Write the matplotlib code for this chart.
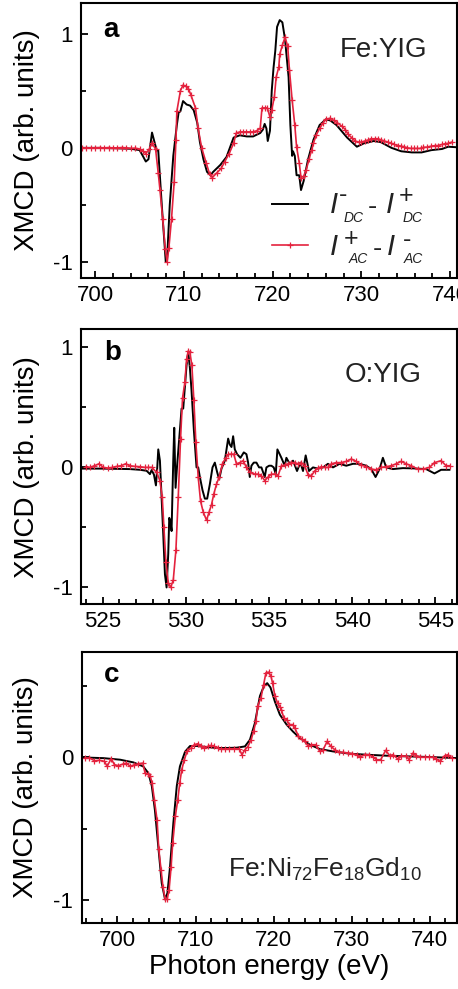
import matplotlib
matplotlib.use("Agg")
import matplotlib.pyplot as plt
from matplotlib.ticker import MultipleLocator

plt.rcParams['font.family'] = ['Liberation Sans', 'DejaVu Sans']
plt.rcParams['mathtext.fontset'] = 'custom'
plt.rcParams['mathtext.rm'] = 'Liberation Sans'
plt.rcParams['mathtext.it'] = 'Liberation Sans:italic'
plt.rcParams['mathtext.bf'] = 'Liberation Sans:bold'
plt.rcParams['axes.unicode_minus'] = False

RED = '#e4223e'

# panel a: Fe L-edge of YIG
ea_dc = [698.4, 700.0, 702.0, 704.0, 705.0, 705.4, 705.7, 706.0, 706.4, 706.8, 706.95, 707.1,
         707.5, 707.95, 708.1, 708.4, 708.8, 709.2, 709.4, 709.6, 709.9, 710.3, 710.7, 711.1,
         711.5, 711.8, 712.2, 712.6, 713.0, 713.3, 714.1, 714.8, 715.6, 716.3, 717.1, 717.8,
         718.6, 718.9, 719.1, 719.3, 719.45, 719.7, 719.9, 720.1, 720.3, 720.5, 720.8, 721.1,
         721.4, 721.8, 722.0, 722.2, 722.3, 722.5, 722.7, 723.0, 723.2, 723.5, 724.0, 724.6,
         725.3, 726.0, 726.5, 727.2, 728.4, 729.5, 730.3, 731.4, 732.2, 733.4, 734.5, 735.7,
         736.8, 737.9, 739.1, 739.8, 740.8]
xa_dc = [0.0, 0.0, -0.003, -0.008, -0.02, -0.076, -0.12, -0.10, 0.134, 0.015, -0.02, -0.02,
         -0.5, -1.0, -0.98, -0.5, -0.07, 0.2, 0.31, 0.32, 0.41, 0.38, 0.37, 0.33,
         0.22, 0.05, -0.10, -0.21, -0.24, -0.21, -0.15, -0.08, 0.09, 0.11, 0.10, 0.10,
         0.13, 0.16, 0.21, 0.17, 0.06, 0.15, 0.50, 0.70, 0.85, 1.06, 1.12, 1.10,
         0.95, 0.62, 0.20, -0.07, -0.03, -0.07, -0.24, -0.24, -0.37, -0.29, -0.10, 0.07,
         0.20, 0.25, 0.24, 0.20, 0.09, 0.01, 0.04, 0.06, 0.05, 0.0, -0.03, -0.04,
         -0.04, -0.02, -0.01, 0.01, 0.005]

ea_ac = [698.5, 699.0, 699.5, 700.0, 700.5, 701.0, 701.5, 702.0, 702.5, 703.0, 703.5, 704.0,
         704.5, 705.0, 705.4, 705.7, 706.1, 706.4, 706.8, 707.1, 707.3, 707.6, 707.9, 708.1,
         708.3, 708.6, 708.9, 709.1, 709.2, 709.6, 709.9, 710.2, 710.5, 710.8, 711.3, 711.6,
         712.0, 712.5, 712.9, 713.2, 713.7, 714.2, 714.6, 715.1, 715.6, 715.9, 716.3, 716.7,
         717.0, 717.4, 717.8, 718.2, 718.6, 718.8, 719.1, 719.4, 719.7, 719.9, 720.2, 720.4,
         720.7, 720.8, 721.1, 721.4, 721.7, 721.9, 722.2, 722.5, 722.7, 723.0, 723.2, 723.5,
         723.8, 724.1, 724.4, 724.6, 724.9, 725.3, 725.7, 726.0, 726.5, 726.9, 727.3, 727.8,
         728.2, 728.5, 728.9, 729.3, 729.7, 730.0, 730.4, 730.8, 731.1, 731.5, 731.9, 732.2,
         732.6, 733.0, 733.4, 733.7, 734.1, 734.5, 734.8, 735.2, 735.6, 735.9, 736.3, 736.7,
         737.0, 737.4, 737.9, 738.3, 738.7, 739.1, 739.4, 739.8, 740.2]
xa_ac = [0.0, 0.0, 0.0, 0.0, 0.003, 0.0, 0.003, 0.0, 0.0, 0.003, 0.0, -0.005,
         -0.003, -0.01, -0.03, -0.05, -0.01, 0.04, -0.01, -0.22, -0.37, -0.62, -0.89, -1.0,
         -0.88, -0.62, -0.30, 0.07, 0.32, 0.50, 0.55, 0.54, 0.52, 0.46, 0.35, 0.17,
         0.0, -0.13, -0.23, -0.26, -0.22, -0.18, -0.12, -0.05, 0.04, 0.13, 0.14, 0.14,
         0.14, 0.14, 0.14, 0.15, 0.17, 0.35, 0.35, 0.35, 0.27, 0.33, 0.45, 0.62,
         0.71, 0.82, 0.90, 0.97, 0.89, 0.68, 0.42, 0.20, 0.01, -0.13, -0.26, -0.25,
         -0.19, -0.10, -0.02, 0.04, 0.11, 0.17, 0.22, 0.25, 0.26, 0.24, 0.22, 0.19,
         0.16, 0.12, 0.09, 0.06, 0.05, 0.05, 0.06, 0.07, 0.08, 0.08, 0.08, 0.07,
         0.06, 0.05, 0.04, 0.03, 0.02, 0.015, 0.01, 0.0, -0.005, -0.005, -0.005, -0.005,
         0.005, 0.006, 0.015, 0.02, 0.02, 0.03, 0.035, 0.04, 0.05]

# panel b: O K-edge of YIG
eb_dc = [523.7, 525.0, 526.64, 527.24, 527.64, 527.84, 527.94, 528.08, 528.2, 528.28, 528.34,
         528.44, 528.54, 528.64, 528.74, 528.84, 528.94, 529.0, 529.08, 529.14, 529.24, 529.3,
         529.38, 529.48, 529.64, 529.74, 529.84, 529.94, 530.04, 530.14, 530.24, 530.34, 530.48,
         530.64, 530.74, 530.84, 531.0, 531.14, 531.28, 531.44, 531.6, 531.74, 531.88, 532.0,
         532.14, 532.34, 532.54, 532.64, 532.74, 532.84, 532.94, 533.08, 533.28, 533.48, 533.64,
         533.74, 533.84, 533.94, 534.08, 534.24, 534.4, 534.54, 534.74, 534.84, 535.0, 535.14,
         535.28, 535.4, 535.5, 535.74, 535.94, 536.04, 536.24, 536.44, 536.68, 536.88, 537.04,
         537.2, 537.4, 537.64, 537.94, 538.24, 538.54, 538.84, 539.24, 539.64, 540.04, 540.44,
         540.84, 541.14, 541.4, 541.64, 541.84, 542.04, 542.44, 543.04, 543.64, 544.44, 544.94,
         545.34, 545.84]
xb_dc = [-0.01, -0.01, -0.014, -0.02, -0.028, -0.056, -0.022, -0.06, -0.15, 0.0, 0.15,
         0.056, -0.25, -0.56, -0.89, -1.0, -0.72, -0.42, -0.46, -0.53, 0.056, 0.33,
         -0.17, 0.03, 0.31, 0.49, 0.49, 0.67, 0.85, 0.96, 0.83, 0.64, 0.31,
         0.0, 0.0, -0.08, -0.19, -0.26, -0.26, -0.14, 0.0, 0.04, -0.04, -0.10,
         -0.01, 0.056, 0.24, 0.19, 0.17, 0.26, 0.15, 0.11, 0.08, 0.125, 0.11,
         0.04, -0.08, 0.014, 0.04, 0.04, 0.0, 0.0, -0.08, 0.0, 0.014, 0.014,
         0.0, -0.056, 0.15, 0.08, 0.014, 0.08, 0.03, 0.056, -0.03, 0.04, -0.03,
         0.10, -0.03, 0.0, -0.01, 0.0, 0.03, 0.0, 0.03, 0.014, 0.03, 0.03,
         0.014, -0.014, -0.08, -0.014, 0.08, 0.0, -0.014, -0.006, -0.008, -0.014, -0.05,
         -0.02, -0.02]

eb_ac = [524.0, 524.24, 524.5, 524.78, 525.04, 525.3, 525.58, 525.84, 526.1, 526.38, 526.64,
         526.94, 527.24, 527.54, 527.74, 527.94, 528.24, 528.44, 528.58, 528.68, 528.8, 528.94,
         529.08, 529.24, 529.4, 529.54, 529.68, 529.8, 529.94, 530.04, 530.14, 530.24, 530.36,
         530.48, 530.6, 530.74, 530.88, 531.04, 531.24, 531.4, 531.54, 531.68, 531.84, 532.0,
         532.2, 532.4, 532.56, 532.74, 532.88, 533.04, 533.24, 533.44, 533.64, 533.84, 534.14,
         534.34, 534.54, 534.74, 534.94, 535.14, 535.34, 535.54, 535.74, 535.94, 536.14, 536.34,
         536.54, 536.74, 536.94, 537.14, 537.34, 537.54, 537.74, 537.94, 538.14, 538.34, 538.54,
         538.74, 539.04, 539.34, 539.64, 539.94, 540.24, 540.54, 540.84, 541.14, 541.44, 541.74,
         542.04, 542.34, 542.64, 542.94, 543.24, 543.54, 543.94, 544.24, 544.64, 544.94, 545.34,
         545.64, 545.88]
xb_ac = [0.006, 0.0, 0.014, 0.03, 0.0, -0.006, 0.0, 0.008, 0.014, 0.03, 0.014,
         0.008, 0.006, 0.0, 0.0, 0.0, -0.04, -0.11, -0.25, -0.50, -0.79, -0.96,
         -1.0, -0.94, -0.69, -0.25, 0.24, 0.58, 0.71, 0.90, 0.97, 0.96, 0.85,
         0.56, 0.21, -0.08, -0.28, -0.37, -0.44, -0.37, -0.31, -0.22, -0.14, -0.08,
         0.03, 0.08, 0.11, 0.11, 0.11, 0.03, 0.04, 0.056, 0.0, -0.04, -0.056,
         -0.056, -0.07, -0.11, -0.08, -0.056, -0.056, -0.07, 0.014, 0.02, 0.03, 0.04,
         0.04, 0.03, 0.04, 0.014, -0.06, -0.07, -0.03, -0.006, 0.006, 0.0, 0.0,
         0.03, 0.04, 0.04, 0.05, 0.07, 0.05, 0.02, 0.006, -0.014, -0.02, 0.0,
         0.006, 0.014, 0.03, 0.05, 0.03, 0.014, -0.014, -0.014, 0.0, 0.04, 0.056,
         0.014, 0.014]

# panel c: Fe L-edge of Ni72Fe18Gd10
ec_dc = [695.4, 698.2, 700.35, 702.05, 703.3, 703.96, 704.4, 704.8, 705.24, 705.67, 706.1, 706.4,
         706.73, 707.16, 707.6, 708.0, 708.66, 709.3, 710.15, 711.4, 712.7, 714.0, 715.27, 716.33,
         716.97, 717.6, 718.25, 718.76, 719.18, 719.6, 720.17, 720.8, 721.66, 722.5, 723.36, 724.64,
         725.9, 727.6, 729.76, 731.9, 734.45, 737.4, 740.4, 743.5]
xc_dc = [0.0, -0.005, -0.016, -0.035, -0.063, -0.11, -0.20, -0.37, -0.63, -0.88, -0.995, -0.95,
         -0.77, -0.46, -0.20, -0.063, 0.04, 0.08, 0.08, 0.073, 0.066, 0.066, 0.068, 0.077,
         0.124, 0.24, 0.43, 0.50, 0.52, 0.49, 0.39, 0.30, 0.23, 0.18, 0.136, 0.089,
         0.059, 0.042, 0.026, 0.019, 0.012, 0.007, 0.002, -0.005]

ec_ac = [695.87, 696.42, 697.06, 697.7, 698.34, 698.68, 699.19, 699.62, 700.13, 700.69, 701.11,
         701.67, 702.18, 702.69, 703.24, 703.54, 703.88, 704.18, 704.44, 704.74, 705.08, 705.29,
         705.59, 705.84, 706.1, 706.36, 706.61, 706.87, 707.08, 707.42, 707.72, 707.98, 708.23,
         708.57, 708.91, 709.42, 709.85, 710.28, 710.7, 711.13, 711.55, 711.98, 712.4, 712.83,
         713.25, 713.77, 714.32, 714.96, 715.6, 715.94, 716.33, 716.67, 717.1, 717.44, 717.74,
         717.95, 718.38, 718.72, 719.02, 719.36, 719.66, 719.87, 720.17, 720.51, 720.85, 721.0,
         721.3, 721.66, 722.0, 722.43, 722.72, 723.15, 723.58, 724.0, 724.43, 724.85, 725.41,
         725.92, 726.35, 726.86, 727.33, 727.84, 728.4, 728.9, 729.55, 730.1, 730.7, 731.04,
         731.68, 732.23, 732.74, 733.17, 733.72, 734.36, 734.87, 735.3, 735.94, 736.37, 737.0,
         737.35, 737.86, 738.29, 738.8, 739.35, 739.9, 740.4, 740.84, 741.35, 741.9, 742.33,
         742.88]
xc_ac = [-0.004, -0.004, -0.023, -0.02, -0.028, -0.063, -0.009, -0.051, -0.058, -0.047, -0.04,
         -0.063, -0.051, -0.044, -0.04, -0.11, -0.115, -0.13, -0.18, -0.30, -0.44, -0.64,
         -0.79, -0.91, -0.99, -0.995, -0.93, -0.77, -0.60, -0.41, -0.30, -0.18, -0.087,
         -0.016, 0.042, 0.066, 0.089, 0.096, 0.082, 0.066, 0.077, 0.084, 0.077, 0.066,
         0.059, 0.059, 0.061, 0.061, 0.061, 0.019, 0.054, 0.073, 0.12, 0.183, 0.253,
         0.36, 0.417, 0.51, 0.593, 0.597, 0.57, 0.52, 0.43, 0.38, 0.35, 0.335,
         0.277, 0.265, 0.23, 0.23, 0.206, 0.153, 0.129, 0.113, 0.078, 0.089, 0.089,
         0.042, 0.054, 0.113, 0.078, 0.054, 0.035, 0.035, 0.031, 0.026, 0.019, 0.002,
         0.019, 0.019, 0.002, -0.016, -0.016, 0.05, 0.012, 0.019, -0.012, 0.012, 0.007,
         -0.016, 0.031, 0.012, 0.002, 0.002, 0.002, 0.002, -0.012, -0.028, 0.012, 0.019,
         -0.005]

# legend label pieces: (text, x, baseline y, size, italic) in axes fraction of panel a
leg_dc = [('I', 0.662, 0.235, 21, True), ('-', 0.686, 0.276, 18, False), ('DC', 0.699, 0.205, 10, True),
          ('-', 0.763, 0.233, 20, False),
          ('I', 0.811, 0.235, 21, True), ('+', 0.846, 0.273, 18, False), ('DC', 0.856, 0.205, 10, True)]
leg_ac = [('I', 0.662, 0.084, 21, True), ('+', 0.699, 0.116, 18, False), ('AC', 0.713, 0.053, 10, True),
          ('-', 0.777, 0.080, 20, False),
          ('I', 0.814, 0.084, 21, True), ('-', 0.857, 0.113, 18, False), ('AC', 0.859, 0.053, 10, True)]

fig = plt.figure(figsize=(4.58, 9.89), dpi=100)
ax_a = fig.add_axes([0.177, 0.719, 0.821, 0.278])
ax_b = fig.add_axes([0.177, 0.389, 0.821, 0.278])
ax_c = fig.add_axes([0.178, 0.0667, 0.820, 0.2743])

def style(ax, xlim, ylim, xmaj, xmin):
    ax.set_xlim(*xlim)
    ax.set_ylim(*ylim)
    ax.xaxis.set_major_locator(MultipleLocator(xmaj))
    ax.xaxis.set_minor_locator(MultipleLocator(xmin))
    ax.yaxis.set_major_locator(MultipleLocator(1))
    ax.yaxis.set_minor_locator(MultipleLocator(0.5))
    ax.tick_params(which='both', direction='in', top=False, right=False, width=1.3)
    ax.tick_params(which='major', length=5, labelsize=16)
    ax.tick_params(which='minor', length=3.5)
    ax.tick_params(axis='x', which='major', pad=5)
    ax.tick_params(axis='y', which='major', pad=6)
    for s in ax.spines.values():
        s.set_linewidth(1.5)
    ax.set_ylabel('XMCD (arb. units)', fontsize=20)
    ax.yaxis.set_label_coords(-0.11, 0.5)

# panel a
ax_a.plot(ea_dc, xa_dc, color='black', lw=1.4, label=' ')
ax_a.plot(ea_ac, xa_ac, color=RED, lw=1.2, marker='+', ms=5, mew=0.9, label=' ')
style(ax_a, (698.4, 740.8), (-1.14, 1.27), 10, 2)
ax_a.text(0.058, 0.878, 'a', transform=ax_a.transAxes, fontsize=20, fontweight='bold', va='baseline')
ax_a.text(0.689, 0.803, 'Fe:YIG', transform=ax_a.transAxes, fontsize=20, va='baseline', color='#222222')
ax_a.legend(loc='upper left', bbox_to_anchor=(0.507, 0.305), frameon=False, fontsize=18, numpoints=1,
            handlelength=1.46, handletextpad=0.2, labelspacing=0.68, borderpad=0, borderaxespad=0)
for txt, x, y, size, it in leg_dc + leg_ac:
    ax_a.text(x, y, txt, transform=ax_a.transAxes, fontsize=size, va='baseline', ha='left',
              style='italic' if it else 'normal', color='#222222')

# panel b
ax_b.plot(eb_dc, xb_dc, color='black', lw=1.4)
ax_b.plot(eb_ac, xb_ac, color=RED, lw=1.2, marker='+', ms=5, mew=0.9)
style(ax_b, (523.7, 546.3), (-1.14, 1.15), 5, 1)
ax_b.text(0.062, 0.89, 'b', transform=ax_b.transAxes, fontsize=20, fontweight='bold', va='baseline')
ax_b.text(0.702, 0.808, 'O:YIG', transform=ax_b.transAxes, fontsize=20, va='baseline', color='#222222')

# panel c
ax_c.plot(ec_dc, xc_dc, color='black', lw=1.4)
ax_c.plot(ec_ac, xc_ac, color=RED, lw=1.2, marker='+', ms=5, mew=0.9)
style(ax_c, (695.4, 743.5), (-1.16, 0.74), 10, 2)
ax_c.yaxis.set_label_coords(-0.112, 0.5)
ax_c.text(0.06, 0.89, 'c', transform=ax_c.transAxes, fontsize=20, fontweight='bold', va='baseline')
ax_c.text(0.39, 0.171, r'Fe:Ni$_{72}$Fe$_{18}$Gd$_{10}$', transform=ax_c.transAxes,
          fontsize=19, va='baseline', color='#222222')
ax_c.set_xlabel('Photon energy (eV)', fontsize=20, labelpad=2)

fig.savefig('out.png', dpi=100)
